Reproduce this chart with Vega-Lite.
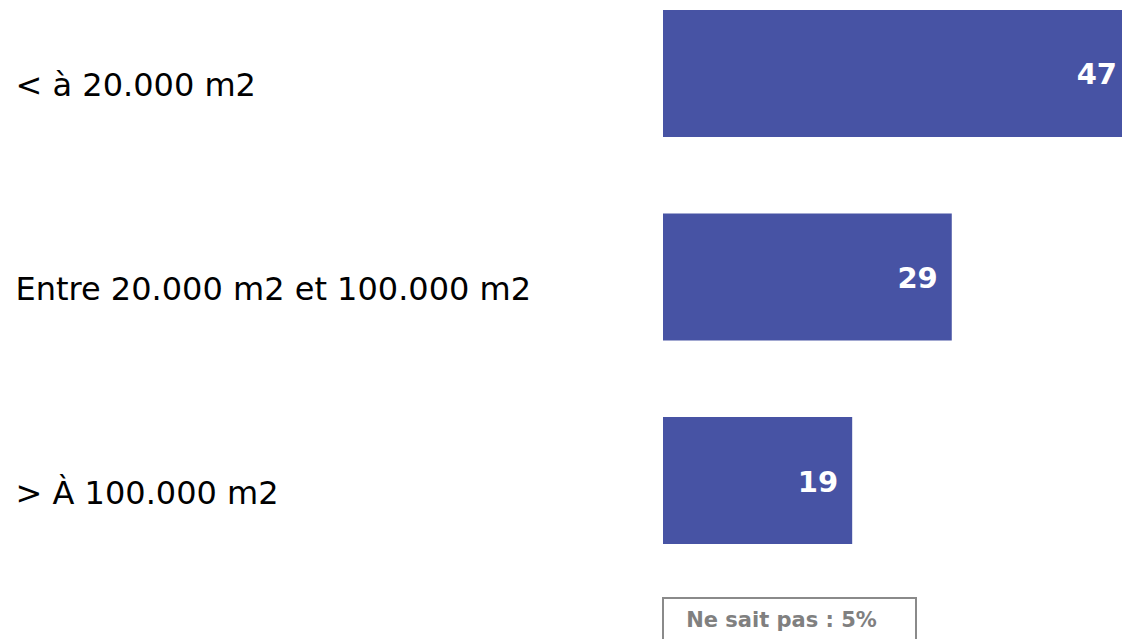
{
  "$schema": "https://vega.github.io/schema/vega-lite/v6.json",
  "padding": {"left": 15, "top": 0, "right": 0, "bottom": 0},
  "background": "white",
  "config": {"view": {"stroke": null}, "font": "DejaVu Sans"},
  "spacing": 43,
  "vconcat": [
    {
      "width": 468,
      "height": 554,
      "data": {"values": [
        {"categorie": "< à 20.000 m2", "valeur": 47},
        {"categorie": "Entre 20.000 m2 et 100.000 m2", "valeur": 29},
        {"categorie": "> À 100.000 m2", "valeur": 19}
      ]},
      "encoding": {
        "y": {
          "field": "categorie", "type": "nominal", "sort": null,
          "scale": {"paddingInner": 0.376, "paddingOuter": 0.049},
          "axis": {
            "title": null, "ticks": false, "domain": false, "grid": false,
            "labelAlign": "left", "labelPadding": 648, "labelFontSize": 32,
            "labelFont": "DejaVu Sans", "labelColor": "#000000",
            "labelOffset": 13, "labelLimit": 0, "labelBaseline": "middle"
          }
        },
        "x": {
          "field": "valeur", "type": "quantitative",
          "scale": {"domain": [0, 47], "nice": false},
          "axis": null
        }
      },
      "layer": [
        {"mark": {"type": "bar", "color": "#4753a4"}},
        {
          "mark": {"type": "text", "align": "right", "baseline": "middle", "dx": -14, "dy": 2, "color": "white", "fontWeight": "bold", "fontSize": 29, "font": "DejaVu Sans"},
          "encoding": {"text": {"field": "valeur", "type": "quantitative"}}
        }
      ]
    },
    {
      "width": 253,
      "height": 46,
      "data": {"values": [{"note": "Ne sait pas : 5%"}]},
      "layer": [
        {"mark": {"type": "rect", "fill": "white", "stroke": "#8a8a8a", "strokeWidth": 2}, "encoding": {}},
        {
          "mark": {"type": "text", "align": "center", "baseline": "middle", "dx": -8, "color": "#808080", "fontWeight": "bold", "fontSize": 21, "font": "DejaVu Sans"},
          "encoding": {"text": {"field": "note"}}
        }
      ]
    }
  ]
}
